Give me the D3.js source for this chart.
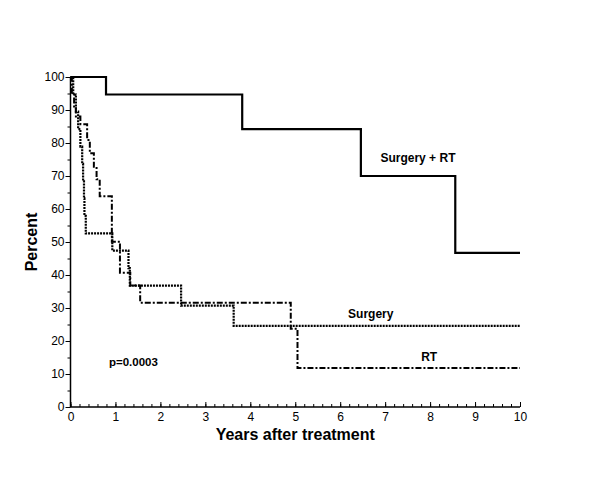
<!DOCTYPE html>
<html>
<head>
<meta charset="utf-8">
<script src="https://cdn.jsdelivr.net/npm/d3@7"></script>
<style>
  body { margin: 0; background: #fff; }
  svg { display: block; }
  text { font-family: "Liberation Sans", Arial, sans-serif; fill: #000; }
</style>
</head>
<body>
<svg id="chart" width="600" height="480"></svg>
<script>
// ---- data (Kaplan-Meier step curves) ----
const surgRtTimes  = [0, 0.79, 3.82, 6.46, 8.56, 10];
const surgRtValues = [100, 94.7, 84.2, 70.0, 46.7, 46.7];

const surgeryTimes  = [0, 0.06, 0.12, 0.17, 0.22, 0.26, 0.28, 0.30, 0.31, 0.34, 0.93, 1.29, 1.32, 2.46, 3.63, 10];
const surgeryValues = [100, 94.7, 89.5, 84.2, 78.9, 73.7, 68.4, 63.2, 57.9, 52.6, 47.4, 42.1, 36.8, 30.7, 24.6, 24.6];

const rtTimes  = [0, 0.03, 0.08, 0.12, 0.22, 0.37, 0.43, 0.52, 0.58, 0.65, 0.92, 1.10, 1.33, 1.55, 4.90, 5.05, 10];
const rtValues = [100, 95.2, 90.5, 88.0, 85.7, 80.9, 76.9, 72.8, 69.0, 63.9, 50.1, 40.7, 36.8, 31.6, 23.7, 11.8, 11.8];

const xTicks = [0,1,2,3,4,5,6,7,8,9,10];
const yTicks = [0,10,20,30,40,50,60,70,80,90,100];

const labels = [
  { text: "Surgery + RT", x: 7.73, y: 74.2 },
  { text: "Surgery", x: 6.68, y: 27.0 },
  { text: "RT", x: 7.98, y: 14.0 },
];
const pLabel = { text: "p=0.0003", x: 1.4, y: 12.4 };

// ---- drawing ----
const svg = d3.select("#chart");
const x = d3.scaleLinear().domain([0, 10]).range([70.5, 520]);
const y = d3.scaleLinear().domain([0, 100]).range([407, 77]);

// x axis: ticks pointing inward (up)
const xAxisMinor = d3.axisBottom(x).tickValues(d3.range(0, 10.001, 0.2)).tickSize(-3).tickFormat("");
svg.append("g").attr("transform", `translate(0,${y(0)})`).call(xAxisMinor)
  .call(g => g.select(".domain").remove())
  .call(g => g.selectAll("line").attr("stroke", "#000"));
const xAxis = d3.axisBottom(x).tickValues(xTicks).tickSize(-5).tickPadding(4).tickFormat(d3.format("d"));
svg.append("g").attr("transform", `translate(0,${y(0)})`).call(xAxis)
  .call(g => g.select(".domain").attr("stroke", "#000").attr("stroke-width", 1.5).attr("d", `M${x(0)},0H${x(10)}`))
  .call(g => g.selectAll("line").attr("stroke", "#000"))
  .call(g => g.selectAll("text").attr("font-size", 12).attr("font-family", "Liberation Sans, Arial, sans-serif").attr("fill", "#000").attr("dy", "0.85em"));

// y axis: ticks pointing outward (left)
const yAxisMinor = d3.axisLeft(y).tickValues(d3.range(0, 100.001, 5)).tickSize(3).tickFormat("");
svg.append("g").attr("transform", `translate(${x(0)},0)`).call(yAxisMinor)
  .call(g => g.select(".domain").remove())
  .call(g => g.selectAll("line").attr("stroke", "#000"));
const yAxis = d3.axisLeft(y).tickValues(yTicks).tickSize(5).tickPadding(1).tickFormat(d3.format("d"));
svg.append("g").attr("transform", `translate(${x(0)},0)`).call(yAxis)
  .call(g => g.select(".domain").attr("stroke", "#000").attr("stroke-width", 1.5).attr("d", `M0,${y(0)}V${y(100)}`))
  .call(g => g.selectAll("line").attr("stroke", "#000"))
  .call(g => g.selectAll("text").attr("font-size", 12).attr("font-family", "Liberation Sans, Arial, sans-serif").attr("fill", "#000"));

// curves
const line = d3.line().x(d => x(d[0])).y(d => y(d[1])).curve(d3.curveStepAfter);
const zip = (t, v) => t.map((d, i) => [d, v[i]]);

svg.append("path").datum(zip(rtTimes, rtValues))
  .attr("d", line).attr("fill", "none").attr("stroke", "#000")
  .attr("stroke-width", 2).attr("stroke-dasharray", "6,2,2,2");

svg.append("path").datum(zip(surgeryTimes, surgeryValues))
  .attr("d", line).attr("fill", "none").attr("stroke", "#000")
  .attr("stroke-width", 2.2).attr("stroke-dasharray", "2,1");

svg.append("path").datum(zip(surgRtTimes, surgRtValues))
  .attr("d", line).attr("fill", "none").attr("stroke", "#000")
  .attr("stroke-width", 2.2);

// series labels
svg.selectAll(".lab").data(labels).enter().append("text")
  .attr("class", "lab")
  .attr("x", d => x(d.x)).attr("y", d => y(d.y))
  .attr("text-anchor", "middle")
  .attr("font-size", 12).attr("font-weight", "bold")
  .text(d => d.text);

svg.append("text").attr("x", x(pLabel.x)).attr("y", y(pLabel.y))
  .attr("text-anchor", "middle").attr("font-size", 11.5).attr("font-weight", "bold")
  .text(pLabel.text);

// axis titles
svg.append("text").attr("x", (x(0) + x(10)) / 2).attr("y", 440)
  .attr("text-anchor", "middle").attr("font-size", 16).attr("font-weight", "bold")
  .text("Years after treatment");
svg.append("text").attr("transform", `translate(37,${y(50)}) rotate(-90)`)
  .attr("text-anchor", "middle").attr("font-size", 16).attr("font-weight", "bold")
  .text("Percent");
</script>
</body>
</html>
